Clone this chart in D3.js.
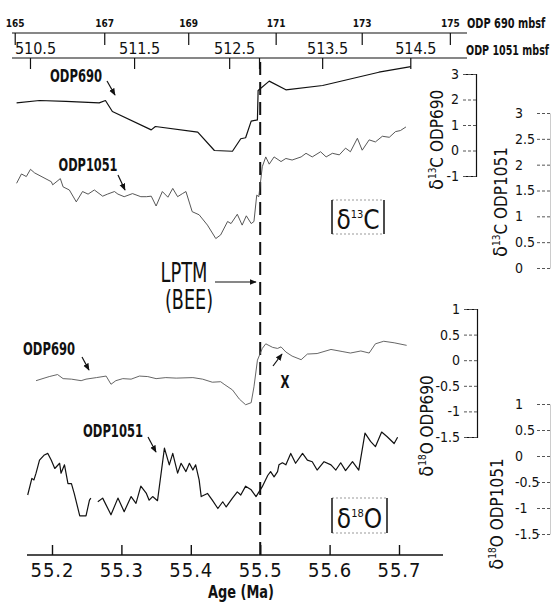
<!DOCTYPE html>
<html>
<head>
<meta charset="utf-8">
<script src="https://cdn.jsdelivr.net/npm/d3@7"></script>
<style>
	body { margin: 0; background: #fff; }
	svg text { font-family: 'DejaVu Sans Condensed', 'DejaVu Sans', sans-serif; font-stretch: condensed; fill: #111; }
</style>
</head>
<body>
<svg id="chart" width="551" height="602"></svg>
<script>
// age axis (Ma)
var ageTicks = [55.2, 55.3, 55.4, 55.5, 55.6, 55.7];
var lptmAge = 55.5;

// depth tie points: depth (mbsf) -> age (Ma)
var depth690 = [165, 167, 169, 171, 173, 175];
var depth690Ages = [55.147, 55.276, 55.397, 55.523, 55.647, 55.774];
var depth1051 = [510.5, 511.5, 512.5, 512.8, 513.5, 514.5];
var depth1051Ages = [55.169, 55.319, 55.456, 55.499, 55.590, 55.717];
var depth1051Labels = ['510.5', '511.5', '512.5', '', '513.5', '514.5'];

// right axes ticks
var ticks13c690 = [-1, 0, 1, 2, 3];
var ticks13c1051 = [0, 0.5, 1, 1.5, 2, 2.5, 3];
var ticks18o690 = [-1.5, -1, -0.5, 0, 0.5, 1];
var ticks18o1051 = [-1.5, -1, -0.5, 0, 0.5, 1];

// d13C ODP690
var age13c690 = [55.149, 55.182, 55.220, 55.268, 55.277, 55.287, 55.343, 55.349, 55.410, 55.434, 55.460, 55.472, 55.479, 55.487, 55.496, 55.497, 55.513, 55.537, 55.590, 55.671, 55.717];
var d13c690 = [1.87, 1.96, 1.93, 1.87, 1.96, 1.53, 0.81, 0.94, 0.72, 0.00, -0.03, 0.46, 0.50, 1.15, 1.20, 2.35, 2.72, 2.38, 2.55, 3.07, 3.29];

// d13C ODP1051
var age13c1051 = [55.149, 55.156, 55.163, 55.169, 55.175, 55.199, 55.201, 55.212, 55.216, 55.225, 55.235, 55.244, 55.252, 55.261, 55.273, 55.280, 55.290, 55.295, 55.304, 55.316, 55.328, 55.336, 55.343, 55.350, 55.359, 55.367, 55.374, 55.381, 55.388, 55.393, 55.402, 55.412, 55.424, 55.436, 55.443, 55.453, 55.458, 55.467, 55.474, 55.480, 55.487, 55.491, 55.495, 55.498, 55.503, 55.508, 55.513, 55.520, 55.530, 55.537, 55.546, 55.559, 55.566, 55.575, 55.587, 55.595, 55.604, 55.614, 55.623, 55.630, 55.640, 55.647, 55.657, 55.666, 55.676, 55.686, 55.695, 55.702, 55.710];
var d13c1051 = [1.64, 1.82, 1.77, 1.91, 1.84, 1.67, 1.61, 1.73, 1.57, 1.51, 1.28, 1.48, 1.43, 1.51, 1.39, 1.43, 1.48, 1.43, 1.38, 1.44, 1.38, 1.38, 1.39, 1.20, 1.48, 1.37, 1.54, 1.38, 1.44, 1.48, 1.09, 1.03, 0.83, 0.57, 0.64, 0.90, 0.86, 1.04, 0.83, 1.01, 0.86, 0.90, 1.41, 1.38, 1.96, 2.15, 2.01, 2.15, 2.06, 2.12, 2.09, 2.15, 2.22, 2.15, 2.25, 2.15, 2.22, 2.19, 2.32, 2.25, 2.51, 2.28, 2.48, 2.44, 2.55, 2.53, 2.64, 2.66, 2.73];

// d18O ODP690
var age18o690 = [55.177, 55.196, 55.208, 55.216, 55.228, 55.242, 55.249, 55.264, 55.278, 55.285, 55.292, 55.302, 55.314, 55.326, 55.338, 55.350, 55.364, 55.379, 55.403, 55.417, 55.431, 55.443, 55.448, 55.460, 55.470, 55.479, 55.487, 55.491, 55.496, 55.503, 55.508, 55.518, 55.525, 55.530, 55.537, 55.546, 55.559, 55.568, 55.582, 55.602, 55.618, 55.630, 55.645, 55.657, 55.666, 55.678, 55.693, 55.711];
var d18o690 = [-0.40, -0.32, -0.28, -0.36, -0.37, -0.40, -0.37, -0.34, -0.31, -0.47, -0.40, -0.36, -0.37, -0.31, -0.32, -0.36, -0.34, -0.35, -0.34, -0.37, -0.43, -0.42, -0.47, -0.58, -0.76, -0.87, -0.83, -0.52, 0.00, 0.23, 0.32, 0.25, 0.23, 0.26, 0.16, 0.08, 0.01, 0.12, 0.13, 0.21, 0.17, 0.14, 0.18, 0.14, 0.32, 0.37, 0.34, 0.29];

// d18O ODP1051 (null = gap in record)
var age18o1051 = [55.165, 55.171, 55.174, 55.177, 55.182, 55.189, 55.194, 55.199, 55.204, 55.211, 55.213, 55.218, 55.223, 55.228, 55.232, 55.240, 55.249, 55.254, 55.256, 55.261, 55.266, 55.273, 55.285, 55.295, 55.304, 55.314, 55.321, 55.328, 55.336, 55.340, 55.345, 55.352, 55.362, 55.369, 55.374, 55.381, 55.386, 55.393, 55.398, 55.403, 55.407, 55.412, 55.415, 55.424, 55.431, 55.439, 55.446, 55.451, 55.460, 55.467, 55.472, 55.479, 55.487, 55.494, 55.503, 55.511, 55.515, 55.520, 55.525, 55.527, 55.532, 55.537, 55.544, 55.551, 55.561, 55.568, 55.575, 55.582, 55.592, 55.602, 55.609, 55.616, 55.623, 55.633, 55.642, 55.651, 55.659, 55.666, 55.675, 55.683, 55.693, 55.698];
var d18o1051 = [-0.75, -0.43, -0.46, -0.33, -0.08, 0.02, 0.05, -0.08, -0.24, -0.14, -0.33, -0.17, -0.53, -0.53, -0.72, -1.15, -1.15, -0.85, -0.81, null, -0.88, -0.81, -1.13, -0.81, -1.07, -0.78, -0.91, -0.58, -0.72, -0.85, -0.78, -0.86, 0.15, -0.17, 0.05, -0.33, -0.14, -0.30, -0.14, -0.27, -0.17, -0.46, -0.78, -0.72, -0.85, -1.01, -0.88, -0.98, -0.81, -0.69, -0.75, -0.58, -0.65, -0.78, -0.59, -0.37, -0.30, -0.40, -0.30, -0.17, -0.13, -0.17, 0.05, -0.14, 0.05, -0.08, -0.11, -0.27, -0.11, -0.17, -0.27, -0.13, -0.28, -0.11, -0.27, 0.44, 0.28, 0.18, 0.46, 0.37, 0.24, 0.36];

var svg = d3.select('#chart');
svg.append('rect').attr('width', 551).attr('height', 602).attr('fill', '#fff');

var x = d3.scaleLinear().domain([55.2, 55.7]).range([52, 399]);
var age690 = d3.scaleLinear().domain(depth690).range(depth690Ages);
var age1051 = d3.scaleLinear().domain(depth1051).range(depth1051Ages);

var y13c690 = d3.scaleLinear().domain([-1, 3]).range([176, 74]);
var y13c1051 = d3.scaleLinear().domain([0, 3]).range([268, 113]);
var y18o690 = d3.scaleLinear().domain([-1.5, 1]).range([437, 309]);
var y18o1051 = d3.scaleLinear().domain([-1.5, 1]).range([534, 404]);

var fmt = function(d){ return String(d); };

svg.append('defs').append('marker')
	.attr('id', 'arr')
	.attr('viewBox', '0 0 10 10')
	.attr('refX', 9)
	.attr('refY', 5)
	.attr('markerWidth', 6)
	.attr('markerHeight', 6)
	.attr('orient', 'auto')
	.append('path')
	.attr('d', 'M0,1 L10,5 L0,9 Z')
	.attr('fill', '#111');

// squeeze a text to the width it has in the figure
function fit(sel, w){
	sel.attr('textLength', w).attr('lengthAdjust', 'spacingAndGlyphs');
	return sel;
}

// top depth axes
var top690 = svg.append('g');
top690.append('line')
	.attr('x1', 12).attr('x2', 467)
	.attr('y1', 33).attr('y2', 33)
	.attr('stroke', '#111').attr('stroke-width', 1.2);
top690.selectAll('line.tk').data(depth690).enter().append('line')
	.attr('class', 'tk')
	.attr('x1', function(d){ return x(age690(d)); })
	.attr('x2', function(d){ return x(age690(d)); })
	.attr('y1', 33).attr('y2', 45)
	.attr('stroke', '#111').attr('stroke-width', 1.2);
top690.selectAll('text').data(depth690).enter().append('text')
	.attr('x', function(d){ return x(age690(d)); })
	.attr('y', 27)
	.attr('text-anchor', 'middle')
	.style('font-size', '10px')
	.style('font-weight', 'bold')
	.text(function(d){ return d; });
svg.append('text')
	.attr('transform', 'translate(467,28) scale(0.78,1)')
	.style('font-size', '14px')
	.style('font-weight', 'bold')
	.text('ODP 690 mbsf');

var top1051 = svg.append('g');
top1051.append('line')
	.attr('x1', 12).attr('x2', 467)
	.attr('y1', 58).attr('y2', 58)
	.attr('stroke', '#111').attr('stroke-width', 1.2);
top1051.selectAll('line.tk').data(depth1051).enter().append('line')
	.attr('class', 'tk')
	.attr('x1', function(d){ return x(age1051(d)); })
	.attr('x2', function(d){ return x(age1051(d)); })
	.attr('y1', 58).attr('y2', 69)
	.attr('stroke', '#111').attr('stroke-width', 1.2);
top1051.selectAll('text').data(depth1051).enter().append('text')
	.attr('x', function(d){ return x(age1051(d)) + 5; })
	.attr('y', 54)
	.attr('text-anchor', 'middle')
	.style('font-size', '16px')
	.text(function(d, i){ return depth1051Labels[i]; });
svg.append('text')
	.attr('transform', 'translate(466,55) scale(0.76,1)')
	.style('font-size', '14px')
	.style('font-weight', 'bold')
	.text('ODP 1051 mbsf');

// bottom age axis
svg.append('line')
	.attr('x1', 27).attr('x2', 443)
	.attr('y1', 555).attr('y2', 555)
	.attr('stroke', '#111').attr('stroke-width', 1.4);
var bottom = svg.append('g')
	.attr('transform', 'translate(0,555)')
	.call(d3.axisBottom(x).tickValues(ageTicks).tickSize(-10).tickPadding(8).tickFormat(fmt));
bottom.select('.domain').remove();
bottom.selectAll('line').attr('stroke', '#111').attr('stroke-width', 1.4);
bottom.selectAll('text')
	.attr('fill', '#111')
	.style('font-size', '20px')
	.style('letter-spacing', '1px');
fit(svg.append('text')
	.attr('x', 241).attr('y', 598)
	.attr('text-anchor', 'middle')
	.style('font-size', '18px')
	.style('font-weight', 'bold')
	.text('Age (Ma)'), 66);

// LPTM line
svg.append('line')
	.attr('x1', x(lptmAge)).attr('x2', x(lptmAge))
	.attr('y1', 62).attr('y2', 555)
	.attr('stroke', '#111')
	.attr('stroke-width', 2)
	.attr('stroke-dasharray', '13,7');

// series
function drawSeries(ages, vals, ys, color, width){
	var line = d3.line()
		.defined(function(d){ return d[1] !== null; })
		.x(function(d){ return x(d[0]); })
		.y(function(d){ return ys(d[1]); });
	svg.append('path')
		.datum(d3.zip(ages, vals))
		.attr('d', line)
		.attr('fill', 'none')
		.attr('stroke', color)
		.attr('stroke-width', width)
		.attr('stroke-linejoin', 'round');
}
drawSeries(age13c690, d13c690, y13c690, '#111', 1.2);
drawSeries(age13c1051, d13c1051, y13c1051, '#444', 0.9);
drawSeries(age18o690, d18o690, y18o690, '#555', 0.9);
drawSeries(age18o1051, d18o1051, y18o1051, '#111', 1.2);

// right axes
function leftAxis(ys, ticks, px){
	var g = svg.append('g')
		.attr('transform', 'translate(' + px + ',0)')
		.call(d3.axisLeft(ys).tickValues(ticks).tickSize(13).tickSizeOuter(13).tickPadding(4).tickFormat(fmt));
	g.select('.domain').attr('stroke', '#111').attr('stroke-width', 1.2);
	g.selectAll('.tick line').attr('stroke', '#555').attr('stroke-dasharray', '3,2');
	g.selectAll('text').attr('fill', '#111').style('font-size', '14px');
	return g;
}
function farAxis(ys, ticks){
	var g = svg.append('g')
		.attr('transform', 'translate(550,0)')
		.call(d3.axisLeft(ys).tickValues(ticks).tickSize(13).tickSizeOuter(0).tickFormat(fmt));
	g.select('.domain').attr('stroke', '#ccc').attr('stroke-width', 1);
	g.selectAll('.tick line').attr('stroke', '#555').attr('stroke-dasharray', '3,2');
	g.selectAll('text')
		.attr('x', -35)
		.attr('text-anchor', 'start')
		.attr('fill', '#111')
		.style('font-size', '14px');
	return g;
}
leftAxis(y13c690, ticks13c690, 476);
farAxis(y13c1051, ticks13c1051);
leftAxis(y18o690, ticks18o690, 477);
farAxis(y18o1051, ticks18o1051);

function yTitle(cx, cy, sup, rest){
	var t = svg.append('text')
		.attr('transform', 'translate(' + cx + ',' + cy + ') rotate(-90)')
		.attr('text-anchor', 'middle')
		.attr('dy', '0.35em')
		.style('font-size', '17px');
	t.append('tspan').style('font-size', '20px').text('δ');
	t.append('tspan').attr('dy', -7).style('font-size', '10px').text(sup);
	t.append('tspan').attr('dy', 7).text(rest);
}
yTitle(437, 140, '13', 'C ODP690');
yTitle(501, 202, '13', 'C ODP1051');
yTitle(427, 426, '18', 'O ODP690');
yTitle(497, 514, '18', 'O ODP1051');

// annotations
function label(tx, ty, txt, size, w, weight, ax1, ay1, ax2, ay2){
	fit(svg.append('text')
		.attr('x', tx).attr('y', ty)
		.attr('text-anchor', 'middle')
		.style('font-size', size + 'px')
		.style('font-weight', weight)
		.text(txt), w);
	if (ax1 !== undefined){
		svg.append('line')
			.attr('x1', ax1).attr('y1', ay1)
			.attr('x2', ax2).attr('y2', ay2)
			.attr('stroke', '#111')
			.attr('stroke-width', 1.2)
			.attr('marker-end', 'url(#arr)');
	}
}
label(76, 82, 'ODP690', 18, 52, 'bold', 107, 81, 115, 95);
label(88, 171, 'ODP1051', 18, 59, 'bold', 118, 175, 125, 190);
label(49, 355, 'ODP690', 17, 52, 'bold', 82, 357, 89, 370);
label(113, 437, 'ODP1051', 17, 60, 'bold', 148, 437, 156, 452);
label(184, 282, 'LPTM', 26, 47, 'normal', 215, 282, 256, 282);
label(189, 309, '(BEE)', 26, 48, 'normal');
label(285, 388, 'X', 18, 9, 'bold', 273, 366, 282, 354);

function isoBox(bx, by, bw, bh, sup, rest){
	svg.append('line')
		.attr('x1', bx).attr('x2', bx + bw)
		.attr('y1', by).attr('y2', by)
		.attr('stroke', '#999').attr('stroke-dasharray', '2,2');
	svg.append('line')
		.attr('x1', bx).attr('x2', bx + bw)
		.attr('y1', by + bh).attr('y2', by + bh)
		.attr('stroke', '#999').attr('stroke-dasharray', '2,2');
	svg.append('line')
		.attr('x1', bx).attr('x2', bx)
		.attr('y1', by).attr('y2', by + bh)
		.attr('stroke', '#111').attr('stroke-width', 1.5);
	svg.append('line')
		.attr('x1', bx + bw).attr('x2', bx + bw)
		.attr('y1', by).attr('y2', by + bh)
		.attr('stroke', '#111').attr('stroke-width', 1.5);
	var t = svg.append('text')
		.attr('x', bx + bw / 2)
		.attr('y', by + bh - 5)
		.attr('text-anchor', 'middle')
		.style('font-size', '26px');
	t.append('tspan').text('δ');
	t.append('tspan').attr('dy', -11).style('font-size', '11px').text(sup);
	t.append('tspan').attr('dy', 11).text(rest);
}
isoBox(332, 200, 52, 34, '13', 'C');
isoBox(332, 498, 55, 35, '18', 'O');
</script>
</body>
</html>
